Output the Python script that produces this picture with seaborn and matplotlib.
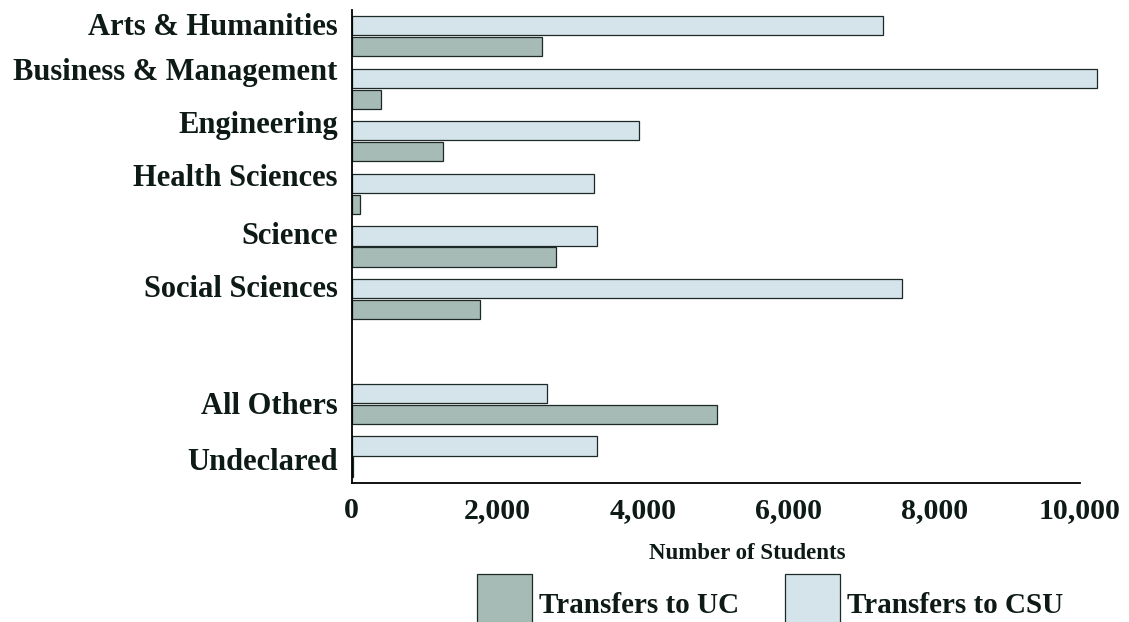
import matplotlib
matplotlib.use("Agg")
import matplotlib.pyplot as plt
from matplotlib.patches import Patch
from matplotlib.ticker import FuncFormatter
import seaborn as sns
import pandas as pd

# Transfer destinations by field of study
categories = ["Arts & Humanities", "Business & Management", "Engineering",
              "Health Sciences", "Science", "Social Sciences",
              "All Others", "Undeclared"]
csu_transfers = [7300, 10240, 3950, 3330, 3370, 7560, 2680, 3370]
uc_transfers = [2620, 400, 1250, 120, 2810, 1760, 5020, 20]
series_names = ["Transfers to CSU", "Transfers to UC"]
x_ticks = [0, 2000, 4000, 6000, 8000, 10000]

df = pd.DataFrame({
    "Field": categories * 2,
    "Students": csu_transfers + uc_transfers,
    "Series": [series_names[0]] * len(categories) + [series_names[1]] * len(categories),
})

# an empty slot separates the named fields from the catch-all rows
order = categories[:6] + [" "] + categories[6:]
slot = {name: i for i, name in enumerate(order)}
# baseline shift of each field label relative to its bar pair
label_shift = [-0.02, -0.17, -0.16, -0.15, -0.05, -0.04, 0.20, 0.25]

palette = {"Transfers to CSU": "#d4e4ea", "Transfers to UC": "#a6bab6"}
edge = "#1c2926"
ink = "#0d1a16"

sns.set_style("white")
plt.rcParams["font.family"] = ["Liberation Serif", "DejaVu Serif"]
plt.rcParams["font.weight"] = "bold"
plt.rcParams["text.color"] = ink

fig = plt.figure(figsize=(11.29, 6.22), dpi=100)
ax = fig.add_axes([0.3115, 0.224, 0.6448, 0.7599])

sns.barplot(data=df, x="Students", y="Field", hue="Series", order=order,
            hue_order=series_names, palette=palette, orient="h",
            width=0.8, gap=0.08, saturation=1, edgecolor=edge, linewidth=0.9,
            errorbar=None, legend=False, ax=ax)

for p in ax.patches:
    p.set_clip_on(False)

ax.set_ylim(len(order) - 0.5, -0.5)
ax.set_xlim(0, 10000)

ax.set_yticks([slot[c] + s for c, s in zip(categories, label_shift)], labels=categories)
for t in ax.get_yticklabels():
    t.set_verticalalignment("baseline")
ax.tick_params(axis="y", length=0, pad=10, labelsize=22, labelcolor=ink)

ax.set_xticks(x_ticks)
ax.xaxis.set_major_formatter(FuncFormatter(lambda v, _: f"{v:,.0f}"))
ax.tick_params(axis="x", direction="in", length=8.6, width=1.0, color="black",
               pad=10.5, labelsize=21.5, labelcolor=ink)

sns.despine(ax=ax)
for side in ("left", "bottom"):
    ax.spines[side].set_linewidth(1.3)
    ax.spines[side].set_color("black")

ax.set_ylabel("")
ax.set_xlabel("Number of Students", fontsize=16.5, fontweight="bold", color=ink)
ax.xaxis.label.set_verticalalignment("center")
ax.xaxis.set_label_coords(0.544, -0.150)

handles = [Patch(facecolor=palette["Transfers to UC"], edgecolor=edge, linewidth=0.9,
                 label="Transfers to UC"),
           Patch(facecolor=palette["Transfers to CSU"], edgecolor=edge, linewidth=0.9,
                 label="Transfers to CSU")]
fig.legend(handles=handles, loc="upper left", bbox_to_anchor=(477 / 1129, 1 - 574 / 622),
           ncol=2, frameon=False, borderpad=0, borderaxespad=0,
           handlelength=1.875, handleheight=2.8, handletextpad=0.24,
           columnspacing=1.6, prop={"family": "Liberation Serif", "weight": "bold", "size": 21})

fig.savefig("out.png", dpi=100)
